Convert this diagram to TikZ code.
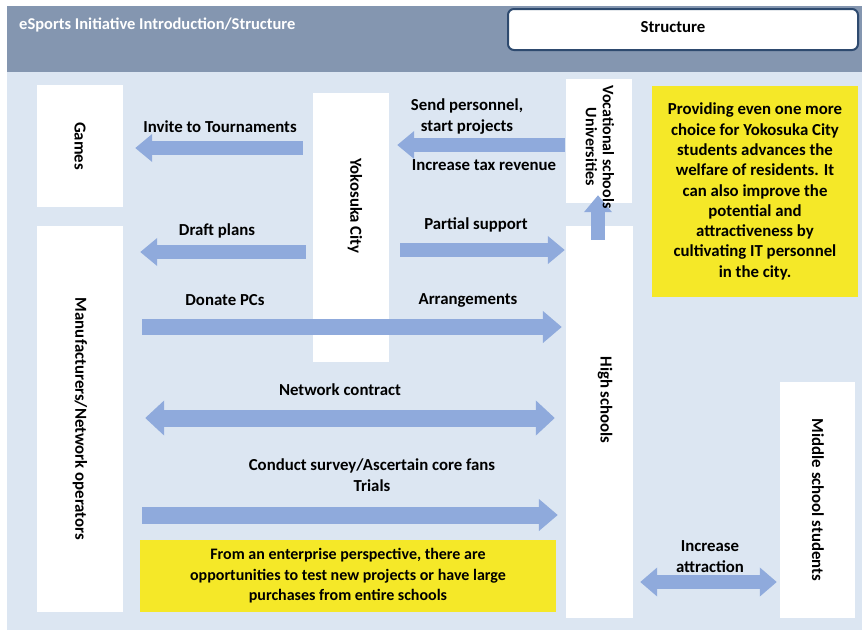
\documentclass[tikz,border=0pt]{standalone}
\usepackage{fontspec}
\setmainfont{Carlito}
\usetikzlibrary{arrows.meta,calc}
\definecolor{headc}{RGB}{132,150,176}
\definecolor{bodyc}{RGB}{220,230,242}
\definecolor{arrowc}{RGB}{143,170,220}
\definecolor{yelc}{RGB}{245,232,40}
\definecolor{framec}{RGB}{46,74,111}
\begin{document}
\begin{tikzpicture}[x=1pt,y=-1pt,
  box/.style={rectangle, fill=white, inner sep=0pt},
  ybox/.style={rectangle, fill=yelc, inner sep=0pt},
  lbl/.style={font=\fontsize{16.8}{21}\selectfont\bfseries, inner sep=0pt, align=center},
  vlbl/.style={lbl, rotate=-90},
  ytext/.style={font=\fontsize{16.8}{20.3}\selectfont\bfseries, inner sep=0pt, align=center},
  arrsmall/.style={draw=arrowc, line width=14pt, -{Triangle[length=17pt,width=27pt]}},
  arrbig/.style={draw=arrowc, line width=16pt, -{Triangle[length=19pt,width=31pt]}},
  arrbig2/.style={draw=arrowc, line width=17pt, {Triangle[length=19pt,width=34pt]}-{Triangle[length=19pt,width=34pt]}},
  arrsmall2/.style={draw=arrowc, line width=14pt, {Triangle[length=17pt,width=28pt]}-{Triangle[length=17pt,width=28pt]}},
]
\useasboundingbox (0,0) rectangle (862,630);
\fill[white] (0,0) rectangle (862,630);
% header and body
\fill[headc] (7,6) rectangle (862,72);
\fill[bodyc] (7,72) rectangle (862,630);
\node[anchor=west, text=white, font=\fontsize{16.5}{19}\selectfont\bfseries, inner sep=0pt] (title) at (19,25) {eSports Initiative Introduction/Structure};
\node[rectangle, rounded corners=6pt, fill=white, draw=framec, line width=2pt, minimum width=350pt, minimum height=41pt] (struct) at (683,29.5) {};
\node[lbl] (tstruct) at (673,27) {Structure};

% boxes
\node[box, minimum width=86pt, minimum height=122pt] (games) at (80,146) {};
\node[box, minimum width=86pt, minimum height=386pt] (manu) at (80,419) {};
\node[box, minimum width=76pt, minimum height=269pt] (yoko) at (351,227.5) {};
\node[box, minimum width=66pt, minimum height=124pt] (voc) at (599,141) {};
\node[box, minimum width=67pt, minimum height=392pt] (high) at (599.5,422) {};
\node[box, minimum width=75pt, minimum height=236pt] (middle) at (817.5,500) {};
\node[ybox, minimum width=206pt, minimum height=211pt] (yel1) at (755,191.5) {};
\node[ybox, minimum width=416pt, minimum height=72pt] (yel2) at (348,576) {};

% arrows
\draw[arrsmall, shorten <=10pt, shorten >=12pt] (yoko.west |- 0,148) -- (games.east |- 0,148);
\draw[arrsmall, shorten <=1pt, shorten >=8pt] (voc.west |- 0,145) -- (yoko.east |- 0,145);
\draw[arrsmall, shorten <=7pt, shorten >=17pt] (yoko.west |- 0,252) -- (manu.east |- 0,252);
\draw[arrsmall, shorten <=11pt, shorten >=1pt] (yoko.east |- 0,250) -- (high.west |- 0,250);
\draw[arrsmall, shorten <=-14pt, shorten >=-8pt] (high.north -| 598,0) -- (voc.south -| 598,0);
\draw[arrbig, shorten <=19pt, shorten >=4pt] (manu.east |- 0,327) -- (high.west |- 0,327);
\draw[arrbig2, shorten <=22pt, shorten >=11pt] (manu.east |- 0,418) -- (high.west |- 0,418);
\draw[arrbig, line width=17pt, shorten <=19pt, shorten >=8pt] (manu.east |- 0,515) -- (high.west |- 0,515);
\draw[arrsmall2, shorten <=7pt, shorten >=3pt] (high.east |- 0,582) -- (middle.west |- 0,582);

% box labels
\node[vlbl] (tgames) at (games) {Games};
\node[vlbl] (tmanu) at (manu) {Manufacturers/Network operators};
\node[vlbl] (tyoko) at (355,206) {Yokosuka City};
\node[vlbl, font=\fontsize{16}{17}\selectfont\bfseries] (tvoc) at (600,147) {Vocational schools\\Universities};
\node[vlbl] (thigh) at (605,400) {High schools};
\node[vlbl] (tmiddle) at (818,500) {Middle school students};
\node[ytext] (tyel1) at (yel1) {Providing even one more\\choice for Yokosuka City\\students advances the\\welfare of residents. It\\can also improve the\\potential and\\attractiveness by\\cultivating IT personnel\\in the city.};
\node[ytext, font=\fontsize{16}{20.5}\selectfont\bfseries] (tyel2) at (yel2) {From an enterprise perspective, there are\\opportunities to test new projects or have large\\purchases from entire schools};

% arrow labels
\node[lbl] (l1) at (220,127) {Invite to Tournaments};
\node[lbl] (l2) at (467,117) {Send personnel,\\start projects};
\node[lbl] (l3) at (484,165) {Increase tax revenue};
\node[lbl] (l4) at (217,231) {Draft plans};
\node[lbl] (l5) at (476,225) {Partial support};
\node[lbl] (l6) at (225,300) {Donate PCs};
\node[lbl] (l7) at (468,300) {Arrangements};
\node[lbl] (l8) at (340,390) {Network contract};
\node[lbl] (l9) at (372,475) {Conduct survey/Ascertain core fans\\Trials};
\node[lbl] (l10) at (710,557) {Increase\\attraction};
\end{tikzpicture}
\end{document}
